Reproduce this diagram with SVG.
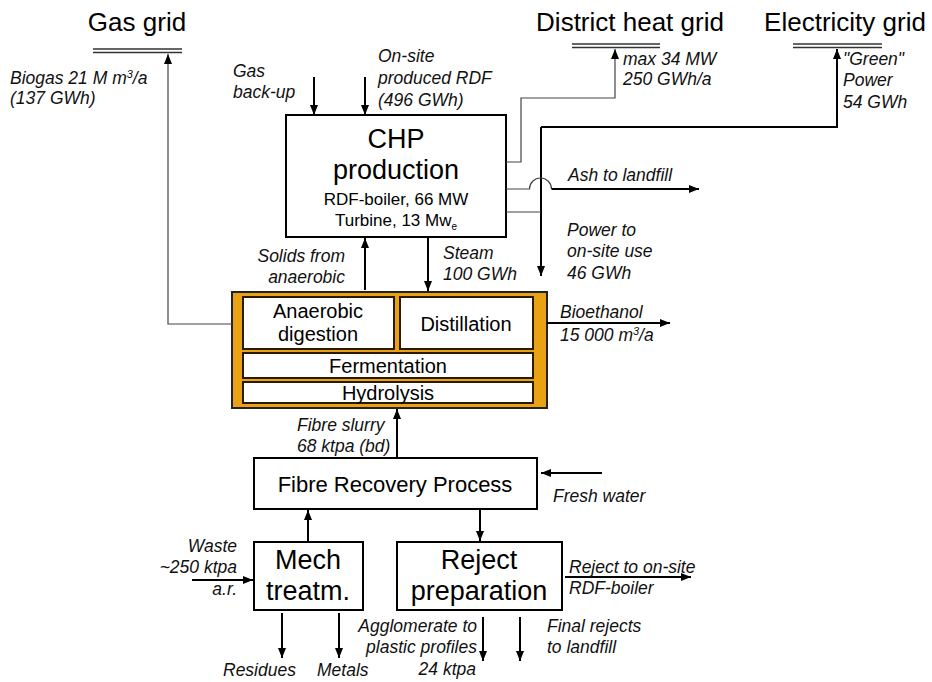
<svg xmlns="http://www.w3.org/2000/svg" width="932" height="682" viewBox="0 0 932 682">
<defs>
<marker id="ah" markerWidth="10" markerHeight="10" viewBox="0 0 10 10" refX="10" refY="5" orient="auto" markerUnits="userSpaceOnUse">
<path d="M0,1 L10,5 L0,9 Z" fill="#000"/>
</marker>
<style>
.title{font-family:"Liberation Sans",Arial,sans-serif;font-size:26px;fill:#000;text-anchor:middle}
.lbl{font-family:"Liberation Sans",Arial,sans-serif;font-size:17.5px;font-style:italic;fill:#111}
.big{font-family:"Liberation Sans",Arial,sans-serif;font-size:27px;fill:#000;text-anchor:middle}
.mid{font-family:"Liberation Sans",Arial,sans-serif;font-size:20px;fill:#000;text-anchor:middle}
.sm{font-family:"Liberation Sans",Arial,sans-serif;font-size:17px;fill:#000;text-anchor:middle}
.box{fill:#fff;stroke:#000;stroke-width:2}
.ibox{fill:#fff;stroke:#2a1a00;stroke-width:2}
.ln{fill:none;stroke:#000;stroke-width:2}
.thin{fill:none;stroke:#444;stroke-width:1.2}
.grid{stroke:#333;stroke-width:1.3}
</style>
</defs>
<rect width="932" height="682" fill="#fff"/>

<g id="gas-grid">
<text class="title" x="137" y="31">Gas grid</text>
<line class="grid" x1="93" y1="49" x2="182" y2="49"/>
<line class="grid" x1="93" y1="52.5" x2="182" y2="52.5"/>
</g>
<g id="district-heat-grid">
<text class="title" x="630" y="31" font-size="26.5">District heat grid</text>
<line class="grid" x1="572" y1="44" x2="660" y2="44"/>
<line class="grid" x1="572" y1="47.5" x2="660" y2="47.5"/>
</g>
<g id="electricity-grid">
<text class="title" x="845" y="31">Electricity grid</text>
<line class="grid" x1="793" y1="44" x2="882" y2="44"/>
<line class="grid" x1="793" y1="47.5" x2="882" y2="47.5"/>
</g>

<g id="chp">
<rect class="box" x="286" y="115" width="220" height="122"/>
<text class="big" x="396" y="148">CHP</text>
<text class="big" x="396" y="179">production</text>
<text class="sm" x="396" y="205">RDF-boiler, 66 MW</text>
<text class="sm" x="396" y="226">Turbine, 13 Mw<tspan font-size="10" dy="4">e</tspan></text>
</g>

<g id="biorefinery">
<rect x="232" y="292" width="315" height="116" fill="#E8A214" stroke="#222" stroke-width="2"/>
<g id="anaerobic-digestion">
<rect class="ibox" x="243" y="297" width="151" height="52"/>
<text class="mid" x="318" y="318">Anaerobic</text>
<text class="mid" x="318" y="341">digestion</text>
</g>
<g id="distillation">
<rect class="ibox" x="400" y="297" width="133" height="52"/>
<text class="mid" x="466" y="331">Distillation</text>
</g>
<g id="fermentation">
<rect class="ibox" x="243" y="353" width="290" height="25"/>
<text class="mid" x="388" y="373">Fermentation</text>
</g>
<g id="hydrolysis">
<rect class="ibox" x="243" y="382" width="290" height="21"/>
<text class="mid" x="388" y="400">Hydrolysis</text>
</g>
</g>

<g id="fibre-recovery">
<rect class="box" x="254" y="458" width="283" height="51"/>
<text x="395" y="492" font-family="Liberation Sans, Arial, sans-serif" font-size="22" text-anchor="middle">Fibre Recovery Process</text>
</g>

<g id="mech-treatment">
<rect class="box" x="254" y="542" width="109" height="68"/>
<text class="big" x="308" y="569">Mech</text>
<text class="big" x="308" y="600">treatm.</text>
</g>

<g id="reject-preparation">
<rect class="box" x="397" y="542" width="165" height="68"/>
<text class="big" x="479" y="569">Reject</text>
<text class="big" x="479" y="600">preparation</text>
</g>

<g id="connectors">
<path class="thin" d="M232,324 H168 V54" marker-end="url(#ah)"/>
<path class="ln" d="M314,77 V115" marker-end="url(#ah)" stroke-width="1.5"/>
<path class="ln" d="M365,77 V115" marker-end="url(#ah)" stroke-width="1.5"/>
<path class="thin" d="M506,162 H521 V98 H615 V49" marker-end="url(#ah)"/>
<path class="ln" d="M541,127 H837 V49" marker-end="url(#ah)"/>
<path class="ln" d="M541,127 V276" marker-end="url(#ah)"/>
<path class="thin" d="M506,212 H541"/>
<path class="thin" d="M506,189 H529.5 A11 11 0 0 1 551.5,189"/>
<path class="ln" d="M551.5,189 H699" marker-end="url(#ah)"/>
<path class="ln" d="M428,237 V291" marker-end="url(#ah)"/>
<path class="ln" d="M365,290 V238" marker-end="url(#ah)"/>
<path class="ln" d="M547,323 H670" marker-end="url(#ah)"/>
<path class="ln" d="M397,458 V409" marker-end="url(#ah)"/>
<path class="ln" d="M602,473 H541" marker-end="url(#ah)"/>
<path class="ln" d="M308,542 V510" marker-end="url(#ah)"/>
<path class="ln" d="M480,509 V541" marker-end="url(#ah)"/>
<path class="ln" d="M192,580 H253" marker-end="url(#ah)"/>
<path class="ln" d="M282,613 V658" marker-end="url(#ah)"/>
<path class="ln" d="M339,613 V658" marker-end="url(#ah)"/>
<path class="ln" d="M565,577 H691" marker-end="url(#ah)"/>
<path class="ln" d="M483,617 V661" marker-end="url(#ah)"/>
<path class="ln" d="M520,617 V661" marker-end="url(#ah)"/>
</g>

<g id="labels">
<text class="lbl" x="10" y="84">Biogas 21 M m<tspan font-size="11" dy="-6">3</tspan><tspan dy="6">/a</tspan></text>
<text class="lbl" x="10" y="104">(137 GWh)</text>
<text class="lbl" x="233" y="77">Gas</text>
<text class="lbl" x="233" y="98">back-up</text>
<text class="lbl" x="378" y="62">On-site</text>
<text class="lbl" x="378" y="84">produced RDF</text>
<text class="lbl" x="378" y="106">(496 GWh)</text>
<text class="lbl" x="623" y="65">max 34 MW</text>
<text class="lbl" x="623" y="85">250 GWh/a</text>
<text class="lbl" x="843" y="65">"Green"</text>
<text class="lbl" x="843" y="86">Power</text>
<text class="lbl" x="843" y="108">54 GWh</text>
<text class="lbl" x="568" y="181">Ash to landfill</text>
<text class="lbl" x="567" y="236">Power  to</text>
<text class="lbl" x="567" y="257">on-site use</text>
<text class="lbl" x="567" y="279">46 GWh</text>
<text class="lbl" x="345" y="262" text-anchor="end">Solids from</text>
<text class="lbl" x="345" y="283" text-anchor="end">anaerobic</text>
<text class="lbl" x="443" y="259">Steam</text>
<text class="lbl" x="443" y="280">100 GWh</text>
<text class="lbl" x="560" y="318">Bioethanol</text>
<text class="lbl" x="560" y="341">15 000 m<tspan font-size="11" dy="-6">3</tspan><tspan dy="6">/a</tspan></text>
<text class="lbl" x="297" y="431">Fibre slurry</text>
<text class="lbl" x="297" y="452">68 ktpa (bd)</text>
<text class="lbl" x="553" y="502">Fresh water</text>
<text class="lbl" x="237" y="552" text-anchor="end">Waste</text>
<text class="lbl" x="237" y="573" text-anchor="end">~250 ktpa</text>
<text class="lbl" x="237" y="595" text-anchor="end">a.r.</text>
<text class="lbl" x="223" y="676">Residues</text>
<text class="lbl" x="317" y="676">Metals</text>
<text class="lbl" x="569" y="573">Reject to on-site</text>
<text class="lbl" x="569" y="594">RDF-boiler</text>
<text class="lbl" x="477" y="632" text-anchor="end">Agglomerate to</text>
<text class="lbl" x="477" y="653" text-anchor="end">plastic profiles</text>
<text class="lbl" x="476" y="675" text-anchor="end">24 ktpa</text>
<text class="lbl" x="547" y="632">Final rejects</text>
<text class="lbl" x="547" y="653">to landfill</text>
</g>
</svg>
